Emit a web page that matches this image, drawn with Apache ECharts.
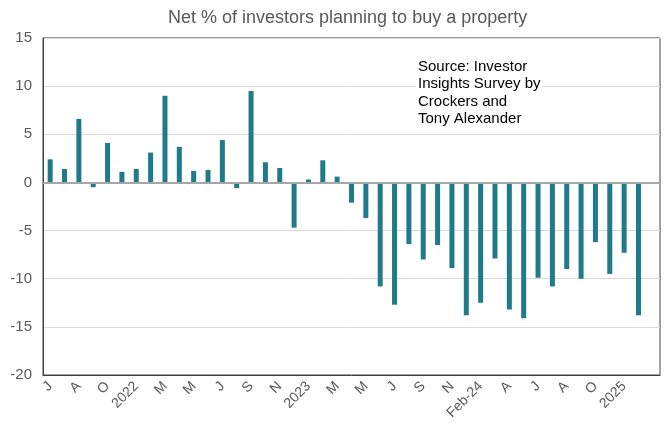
<!DOCTYPE html>
<html lang="en">
<head>
    <meta charset="UTF-8">
    <title>Net % of investors planning to buy a property</title>
    <script src="https://cdn.jsdelivr.net/npm/echarts@6/dist/echarts.min.js"></script>
</head>
<body style="margin:0">
    <div id="container" style="width:668px;height:426px"></div>
    <script>
        // survey rounds (only every other one is labelled on the axis)
        var categories = ['J', 'Jul', 'A', 'Sep', 'O', 'Nov', '2022', 'Feb', 'M', 'Apr', 'M', 'Jun',
            'J', 'Aug', 'S', 'Oct', 'N', 'Dec', '2023', 'Feb', 'M', 'Apr', 'M', 'Jun',
            'J', 'Aug', 'S', 'Oct', 'N', 'Dec', 'Feb-24', 'Mar', 'A', 'May', 'J', 'Jul',
            'A', 'Sep', 'O', 'Nov', '2025', 'Feb', ''];
        var netPct = [2.4, 1.4, 6.6, -0.5, 4.1, 1.1, 1.4, 3.1, 9.0, 3.7, 1.2, 1.3,
            4.4, -0.6, 9.5, 2.1, 1.5, -4.7, 0.3, 2.3, 0.6, -2.1, -3.7, -10.8,
            -12.7, -6.4, -8.0, -6.5, -8.9, -13.8, -12.5, -7.9, -13.2, -14.1, -9.9, -10.8,
            -9.0, -10.0, -6.2, -9.5, -7.3, -13.8, null];
        var sourceLines = ['Source: Investor', 'Insights Survey by', 'Crockers and', 'Tony Alexander'];

        var myChart = echarts.init(document.getElementById('container'));

        var option = {
            animation: false,
            title: {
                text: 'Net % of investors planning to buy a property',
                left: 163,
                top: 4,
                textStyle: {
                    fontFamily: 'Liberation Sans',
                    fontSize: 18,
                    fontWeight: 'normal',
                    color: '#595959'
                }
            },
            grid: {
                left: 43,
                right: 8,
                top: 38,
                bottom: 51,
                show: true,
                borderColor: '#404040',
                borderWidth: 1
            },
            graphic: [{
                type: 'text',
                left: 416,
                top: 58,
                z: 10,
                style: {
                    text: sourceLines.join('\n'),
                    font: '15px "Liberation Sans"',
                    lineHeight: 17.5,
                    fill: '#000',
                    backgroundColor: '#fff',
                    padding: [0, 2]
                }
            }],
            xAxis: {
                type: 'category',
                data: categories,
                axisLine: { onZero: false, lineStyle: { color: '#404040' } },
                axisTick: { show: false },
                axisLabel: {
                    interval: 1,
                    rotate: 45,
                    margin: 9,
                    fontFamily: 'Liberation Sans',
                    fontSize: 14,
                    color: '#595959'
                }
            },
            yAxis: {
                type: 'value',
                min: -20,
                max: 15,
                interval: 5,
                axisLine: { show: true, lineStyle: { color: '#404040' } },
                axisTick: { show: false },
                axisLabel: {
                    margin: 11,
                    fontFamily: 'Liberation Sans',
                    fontSize: 15,
                    color: '#595959'
                },
                splitLine: { lineStyle: { color: '#d9d9d9' } }
            },
            series: [{
                type: 'bar',
                data: netPct,
                barWidth: 5,
                itemStyle: { color: '#1f7a8a' },
                markLine: {
                    silent: true,
                    symbol: 'none',
                    label: { show: false },
                    lineStyle: { color: '#a6a6a6', width: 2, type: 'solid' },
                    data: [{ yAxis: 0 }]
                }
            }]
        };

        myChart.setOption(option);
    </script>
</body>
</html>
